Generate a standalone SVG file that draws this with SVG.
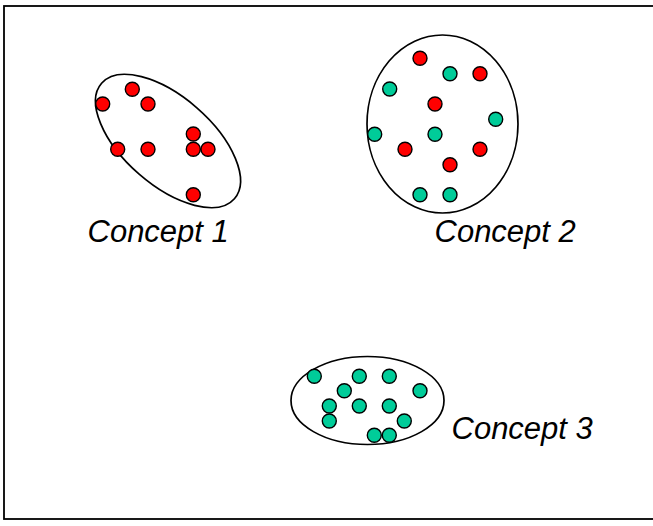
<svg xmlns="http://www.w3.org/2000/svg" width="653" height="526" viewBox="0 0 653 526">
<style>
.frame{fill:none;stroke:#000;stroke-width:1.8}
.hull{fill:none;stroke:#000;stroke-width:1.7}
.r{fill:#FF0000;stroke:#000;stroke-width:1.4}
.g{fill:#00CC99;stroke:#000;stroke-width:1.4}
.lbl{font-family:"Liberation Sans",Arial,sans-serif;font-style:italic;font-size:31px;fill:#000}
</style>
<rect width="653" height="526" fill="#fff"/>
<rect class="frame" x="4" y="6" width="700" height="513"/>
<g id="concept1">
<ellipse class="hull" cx="168" cy="141" rx="88" ry="44" transform="rotate(41 168 141)"/>
<circle class="r" cx="132.3" cy="89.3" r="7"/>
<circle class="r" cx="102.7" cy="104" r="7"/>
<circle class="r" cx="148" cy="104" r="7"/>
<circle class="r" cx="193.3" cy="134" r="7"/>
<circle class="r" cx="117.7" cy="149.3" r="7"/>
<circle class="r" cx="148" cy="149.3" r="7"/>
<circle class="r" cx="193.3" cy="149.3" r="7"/>
<circle class="r" cx="208" cy="149.3" r="7"/>
<circle class="r" cx="193.3" cy="194.7" r="7"/>
<text class="lbl" x="87.5" y="242">Concept 1</text>
</g>
<g id="concept2">
<ellipse class="hull" cx="442.5" cy="124" rx="75.5" ry="89"/>
<circle class="r" cx="420" cy="58.3" r="7"/>
<circle class="g" cx="450" cy="73.7" r="7"/>
<circle class="r" cx="480" cy="73.7" r="7"/>
<circle class="g" cx="389.7" cy="89" r="7"/>
<circle class="r" cx="435" cy="104" r="7"/>
<circle class="g" cx="495.7" cy="119.3" r="7"/>
<circle class="g" cx="374.7" cy="134.3" r="7"/>
<circle class="g" cx="435" cy="134.3" r="7"/>
<circle class="r" cx="405" cy="149.3" r="7"/>
<circle class="r" cx="480" cy="149.3" r="7"/>
<circle class="r" cx="450" cy="164.7" r="7"/>
<circle class="g" cx="420" cy="194.7" r="7"/>
<circle class="g" cx="450" cy="194.7" r="7"/>
<text class="lbl" x="434.5" y="242">Concept 2</text>
</g>
<g id="concept3">
<ellipse class="hull" cx="367.5" cy="400.5" rx="76.5" ry="44"/>
<circle class="g" cx="314.3" cy="376.3" r="7"/>
<circle class="g" cx="359.3" cy="376.3" r="7"/>
<circle class="g" cx="389.3" cy="376.3" r="7"/>
<circle class="g" cx="344.3" cy="390.7" r="7"/>
<circle class="g" cx="420" cy="390.7" r="7"/>
<circle class="g" cx="329.3" cy="406" r="7"/>
<circle class="g" cx="359.3" cy="406" r="7"/>
<circle class="g" cx="389.3" cy="406" r="7"/>
<circle class="g" cx="329.3" cy="421" r="7"/>
<circle class="g" cx="404.3" cy="421" r="7"/>
<circle class="g" cx="374.3" cy="435.3" r="7"/>
<circle class="g" cx="389.3" cy="435.3" r="7"/>
<text class="lbl" x="451.5" y="438.5">Concept 3</text>
</g>
<g id="connectors"/>
</svg>
